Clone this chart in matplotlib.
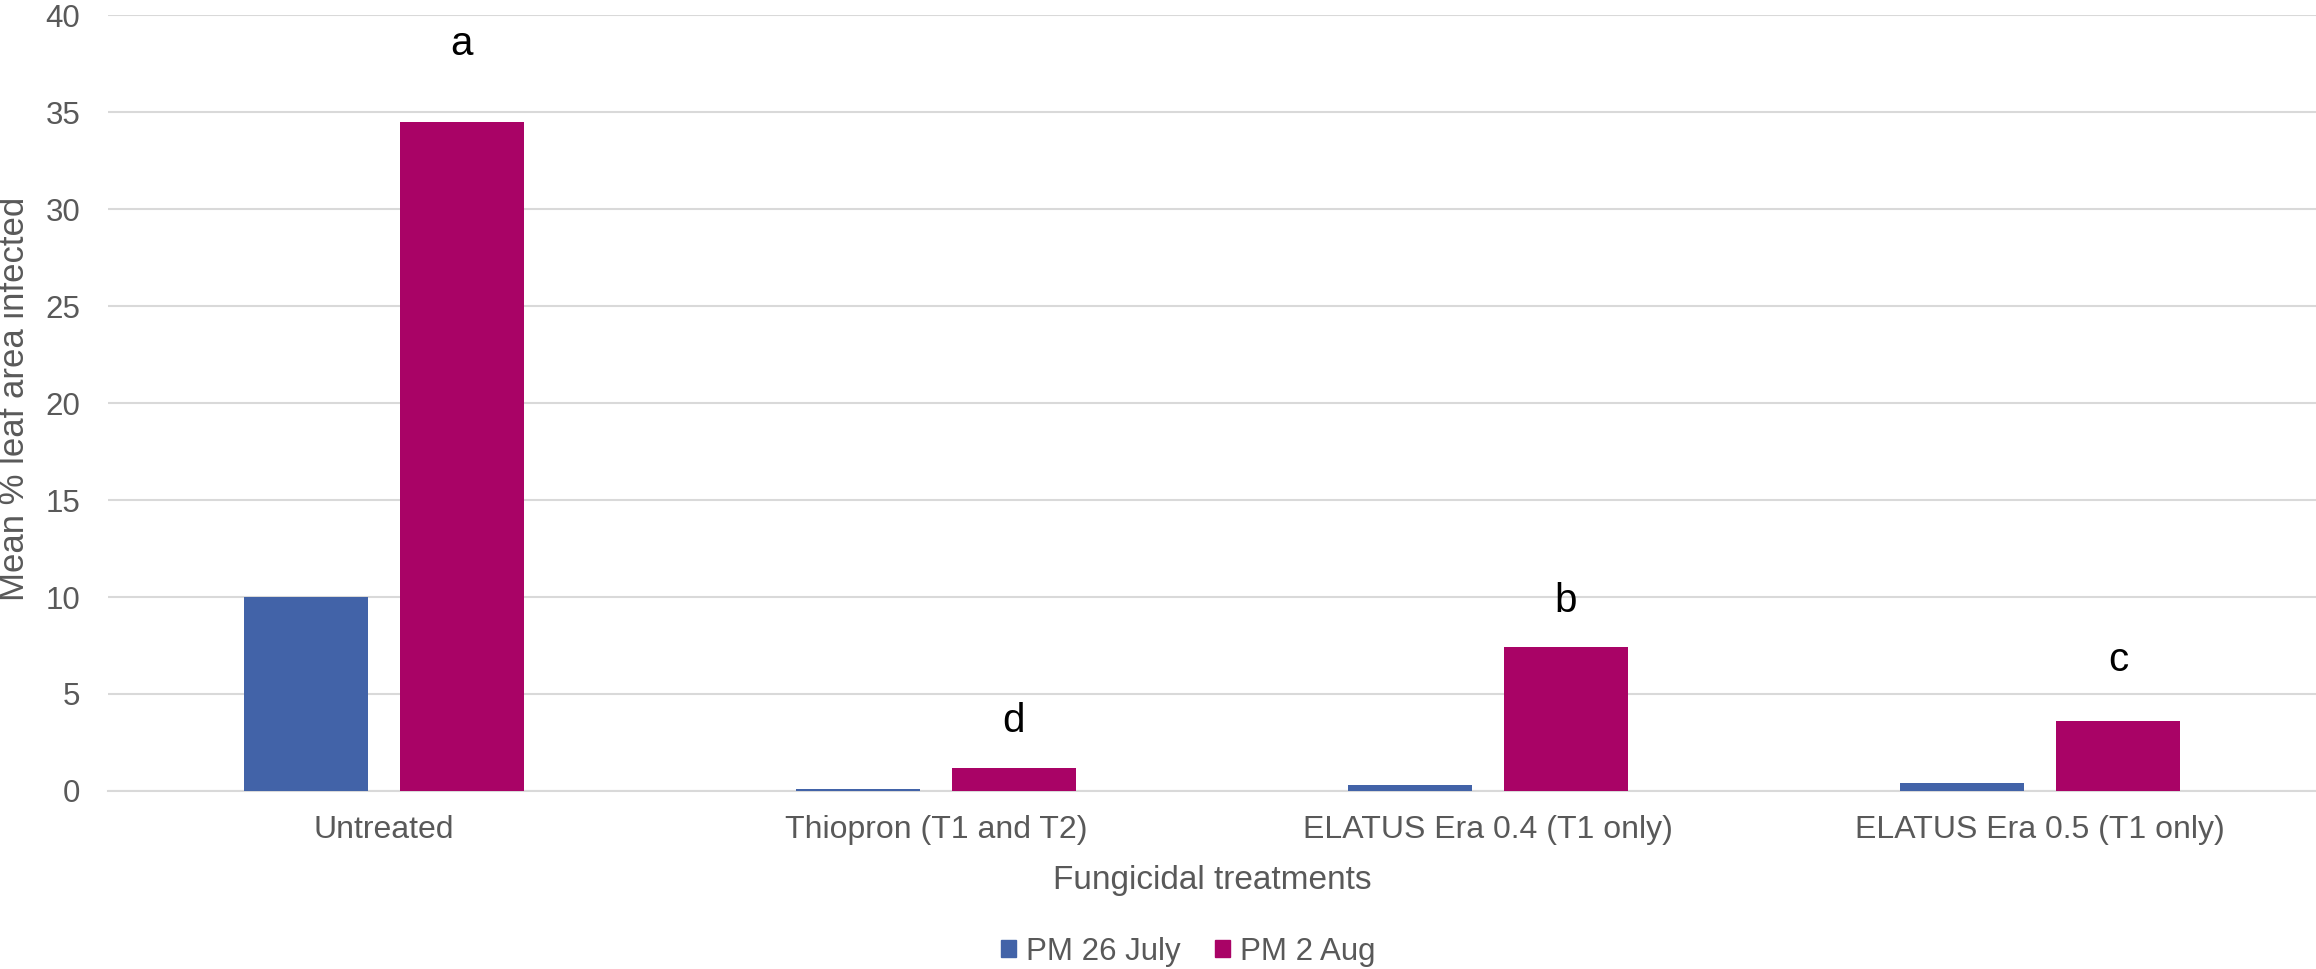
import numpy as np
import matplotlib
matplotlib.use('Agg')
import matplotlib.pyplot as plt
from matplotlib.patches import Patch

plt.rcParams['font.family'] = ['Liberation Sans', 'DejaVu Sans']

# data
categories = ['Untreated', 'Thiopron (T1 and T2)', 'ELATUS Era 0.4 (T1 only)', 'ELATUS Era 0.5 (T1 only)']
pm_26_july = [10.0, 0.1, 0.3, 0.4]
pm_2_aug = [34.5, 1.2, 7.4, 3.6]
letters = ['a', 'd', 'b', 'c']
letter_heights = [38.5, 3.6, 9.8, 6.75]

blue = '#4263a8'
magenta = '#a90366'
grey_text = '#595959'
grid_col = '#d9d9d9'

fig = plt.figure(figsize=(23.16, 9.69), dpi=100)
ax = fig.add_axes([0.0466, 0.1837, 0.9534, 0.8008])

x = np.arange(len(categories))
w = 0.225
off = 0.141
ax.bar(x - off, pm_26_july, width=w, color=blue, label='PM 26 July', zorder=3)
ax.bar(x + off, pm_2_aug, width=w, color=magenta, label='PM 2 Aug', zorder=3)

# significance letters
for xi, lab, h in zip(x, letters, letter_heights):
    ax.text(xi + off, h, lab, ha='center', va='center', fontsize=29, color='black')

ax.set_xlim(-0.5, len(categories) - 0.5)
ax.set_ylim(0, 40)
ax.set_yticks(np.arange(0, 41, 5))
ax.set_xticks(x)
ax.set_xticklabels(categories)
ax.tick_params(axis='both', length=0, labelcolor=grey_text)
ax.tick_params(axis='x', pad=17, labelsize=23)
ax.tick_params(axis='y', pad=20, labelsize=22.5)
ax.yaxis.grid(True, color=grid_col, linewidth=1.5, zorder=0)
ax.set_axisbelow(True)
for s in ['top', 'right', 'left']:
    ax.spines[s].set_visible(False)
ax.spines['bottom'].set_color(grid_col)
ax.spines['bottom'].set_linewidth(1.5)

ax.set_xlabel('Fungicidal treatments', fontsize=24, color=grey_text, labelpad=15)
fig.text(15 / 2316, 0.588, 'Mean % leaf area infected', rotation=90, ha='center', va='center',
         fontsize=25, color=grey_text)

handles = [Patch(color=blue, label='PM 26 July'), Patch(color=magenta, label='PM 2 Aug')]
fig.legend(handles=handles, loc='center', bbox_to_anchor=(0.513, 0.018), ncol=2, frameon=False,
           fontsize=22.5, labelcolor=grey_text, handlelength=0.5, handleheight=0.5,
           handletextpad=0.3, columnspacing=1.1, borderpad=0)

fig.savefig('out.png', dpi=100)
